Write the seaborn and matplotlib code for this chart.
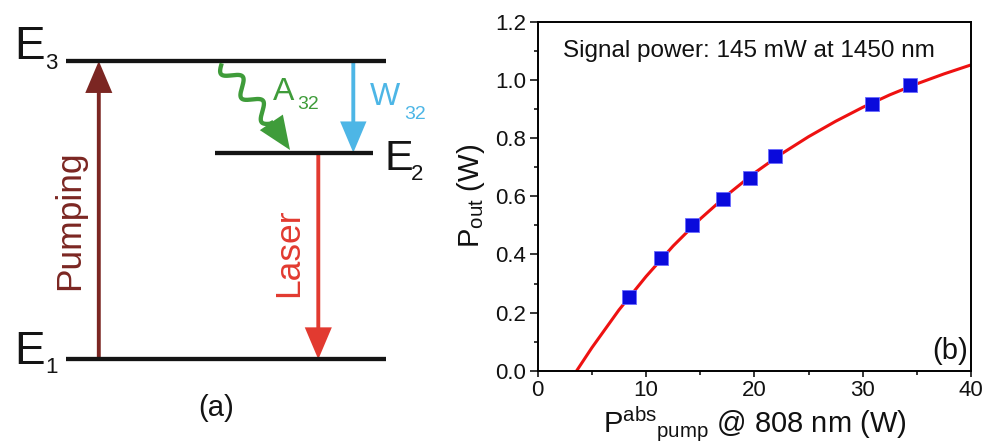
import numpy as np
import matplotlib
matplotlib.use("Agg")
import matplotlib.pyplot as plt
from matplotlib.patches import FancyArrowPatch, ArrowStyle
from matplotlib.ticker import MultipleLocator
import seaborn as sns
import pandas as pd

# ---------------- data ----------------
pump_abs = [8.43, 11.39, 14.24, 17.1, 19.56, 21.93, 30.9, 34.35]          # W
p_out = [0.255, 0.389, 0.500, 0.592, 0.664, 0.739, 0.919, 0.982]         # W
fit_x = [3.6, 5, 7.5, 10, 12.5, 15, 17.5, 20, 22.5, 25, 27.5, 30, 32.5, 35, 37.5, 40]
fit_y = [0.0, 0.079, 0.209, 0.324, 0.429, 0.522, 0.605, 0.680, 0.746, 0.805,
         0.858, 0.906, 0.949, 0.987, 1.021, 1.052]
x_ticks = [0, 10, 20, 30, 40]
y_ticks = [0.0, 0.2, 0.4, 0.6, 0.8, 1.0, 1.2]

level_names = ["1", "2", "3"]
level_energy = [0.0, 0.6926, 1.0]      # relative energy of E1, E2, E3

# ---------------- style ----------------
sns.set_theme(style="ticks")
plt.rcParams["font.family"] = ["Liberation Sans", "DejaVu Sans"]
plt.rcParams["mathtext.fontset"] = "custom"
plt.rcParams["mathtext.rm"] = "Liberation Sans"
plt.rcParams["mathtext.it"] = "Liberation Sans:italic"
plt.rcParams["mathtext.bf"] = "Liberation Sans:bold"

W, H = 992, 446
fig = plt.figure(figsize=(W / 100, H / 100), dpi=100)

# ================= panel (a): energy diagram =================
ax_a = fig.add_axes([0, 0, 446 / W, 1])
ax_a.set_axis_off()
Y_E1, PX_PER_E = 359.3, 298.3


def e(py):
    return (Y_E1 - py) / PX_PER_E


ax_a.set_xlim(0, 446)
ax_a.set_ylim(e(446), e(0))

black = "#141414"
c_pump = "#7b2622"
c_laser = "#e23a30"
c_w = "#4db6e6"
c_a = "#3f9c3a"

level_x = {"1": (65.7, 386), "2": (215, 373), "3": (65.7, 386)}
for name, en in zip(level_names, level_energy):
    x0, x1 = level_x[name]
    ax_a.plot([x0, x1], [en, en], color=black, lw=3.1, solid_capstyle="butt")

# level labels
ax_a.text(14, e(59), "E", fontsize=33, color=black, ha="left", va="baseline")
ax_a.text(45, e(69), "3", fontsize=16, color=black, ha="left", va="baseline")
ax_a.text(14, e(364), "E", fontsize=33, color=black, ha="left", va="baseline")
ax_a.text(45, e(373), "1", fontsize=16, color=black, ha="left", va="baseline")
ax_a.text(384, e(170), "E", fontsize=31, color=black, ha="left", va="baseline")
ax_a.text(411, e(180.5), "2", fontsize=16, color=black, ha="left", va="baseline")


def arrow(x0, y0, x1, y1, color, tail=2.8, hl=23, hw=19.5):
    st = ArrowStyle.Simple(head_length=hl, head_width=hw, tail_width=tail)
    p = FancyArrowPatch((x0, y0), (x1, y1), arrowstyle=st, mutation_scale=1,
                        color=color, lw=0, shrinkA=0, shrinkB=0)
    ax_a.add_patch(p)


E1, E2, E3 = level_energy
arrow(98.8, E1, 98.8, E3, c_pump)
arrow(318.3, E2, 318.3, E1, c_laser)
arrow(353.3, E3, 353.3, E2, c_w, hl=22.5, hw=19)

# wavy A32 arrow (computed in pixel space)
sx, sy = 221.7, 63.3
bx, by = 272.5, 123.5
tx, ty = 290.0, 150.0
L = np.hypot(bx - sx, by - sy)
ux, uy = (bx - sx) / L, (by - sy) / L
nx, ny = -uy, ux
t = np.linspace(0, L, 300)
amp = 7.5
wav = amp * np.sin(2 * np.pi * t / (L / 2.5))
px = sx + t * ux + wav * nx
pyy = sy + t * uy + wav * ny
ax_a.plot(px, e(pyy), color=c_a, lw=3.1, solid_capstyle="butt", solid_joinstyle="round")
arrow(bx - 3 * ux, e(by - 3 * uy), tx, e(ty), c_a, tail=3.1, hl=24, hw=20)

# process labels
ax_a.text(70, e(220), "Pumping", rotation=90, fontsize=25.5, color=c_pump,
          ha="center", va="center")
ax_a.text(289, e(252.5), "Laser", rotation=90, fontsize=25.5, color=c_laser,
          ha="center", va="center")
ax_a.text(273, e(100), "A", fontsize=23, color=c_a, ha="left", va="baseline")
ax_a.text(297, e(109), "32", fontsize=14, color=c_a, ha="left", va="baseline")
ax_a.text(369.5, e(105), "W", fontsize=23, color=c_w, ha="left", va="baseline")
ax_a.text(404.5, e(119.3), "32", fontsize=14, color=c_w, ha="left", va="baseline")
ax_a.text(216, e(415.5), "(a)", fontsize=21, color=black, ha="center", va="baseline")

# ================= panel (b): output power =================
L0, R0, T0, B0 = 537.7, 971.0, 21.9, 370.7
ax = fig.add_axes([L0 / W, 1 - B0 / H, (R0 - L0) / W, (B0 - T0) / H])

fit_df = pd.DataFrame({"x": fit_x, "y": fit_y})
pts_df = pd.DataFrame({"x": pump_abs, "y": p_out})
sns.lineplot(data=fit_df, x="x", y="y", ax=ax, color="#ee1111", lw=2.2,
             sort=False, estimator=None, zorder=2)
sns.scatterplot(data=pts_df, x="x", y="y", ax=ax, marker="s", s=88,
                color="#0a0adc", edgecolor="#6a6aff", linewidth=0.6, zorder=3)

ax.set_xlim(0, 40)
ax.set_ylim(0, 1.2)
ax.set_xticks(x_ticks)
ax.set_yticks(y_ticks)
ax.set_xticklabels([str(v) for v in x_ticks])
ax.set_yticklabels([f"{v:.1f}" for v in y_ticks])
ax.xaxis.set_minor_locator(MultipleLocator(5))
ax.yaxis.set_minor_locator(MultipleLocator(0.1))
for s in ax.spines.values():
    s.set_visible(True)
    s.set_linewidth(1.4)
    s.set_color("black")
ax.tick_params(axis="both", which="both", direction="out", color="black",
               width=1.1, labelsize=16, labelcolor="#111111")
ax.tick_params(axis="x", which="major", length=4.5, pad=2)
ax.tick_params(axis="y", which="major", length=5.5, pad=3)
ax.tick_params(axis="both", which="minor", length=3)
ax.tick_params(top=False, right=False, which="both")

ax.set_xlabel(r"$\mathregular{P^{abs}{}_{pump}}$ @ 808 nm (W)", fontsize=21,
              labelpad=3, color="#111111")
ax.set_ylabel(r"$\mathregular{P_{out}}$ (W)", fontsize=21, labelpad=6, color="#111111")

ax.text(0.4877, 0.9002, "Signal power: 145 mW at 1450 nm", transform=ax.transAxes,
        fontsize=17.5, ha="center", va="baseline", color="#111111")
ax.text(0.993, 0.0324, "(b)", transform=ax.transAxes, fontsize=21,
        ha="right", va="baseline", color="#111111")

fig.savefig("out.png", dpi=100)
